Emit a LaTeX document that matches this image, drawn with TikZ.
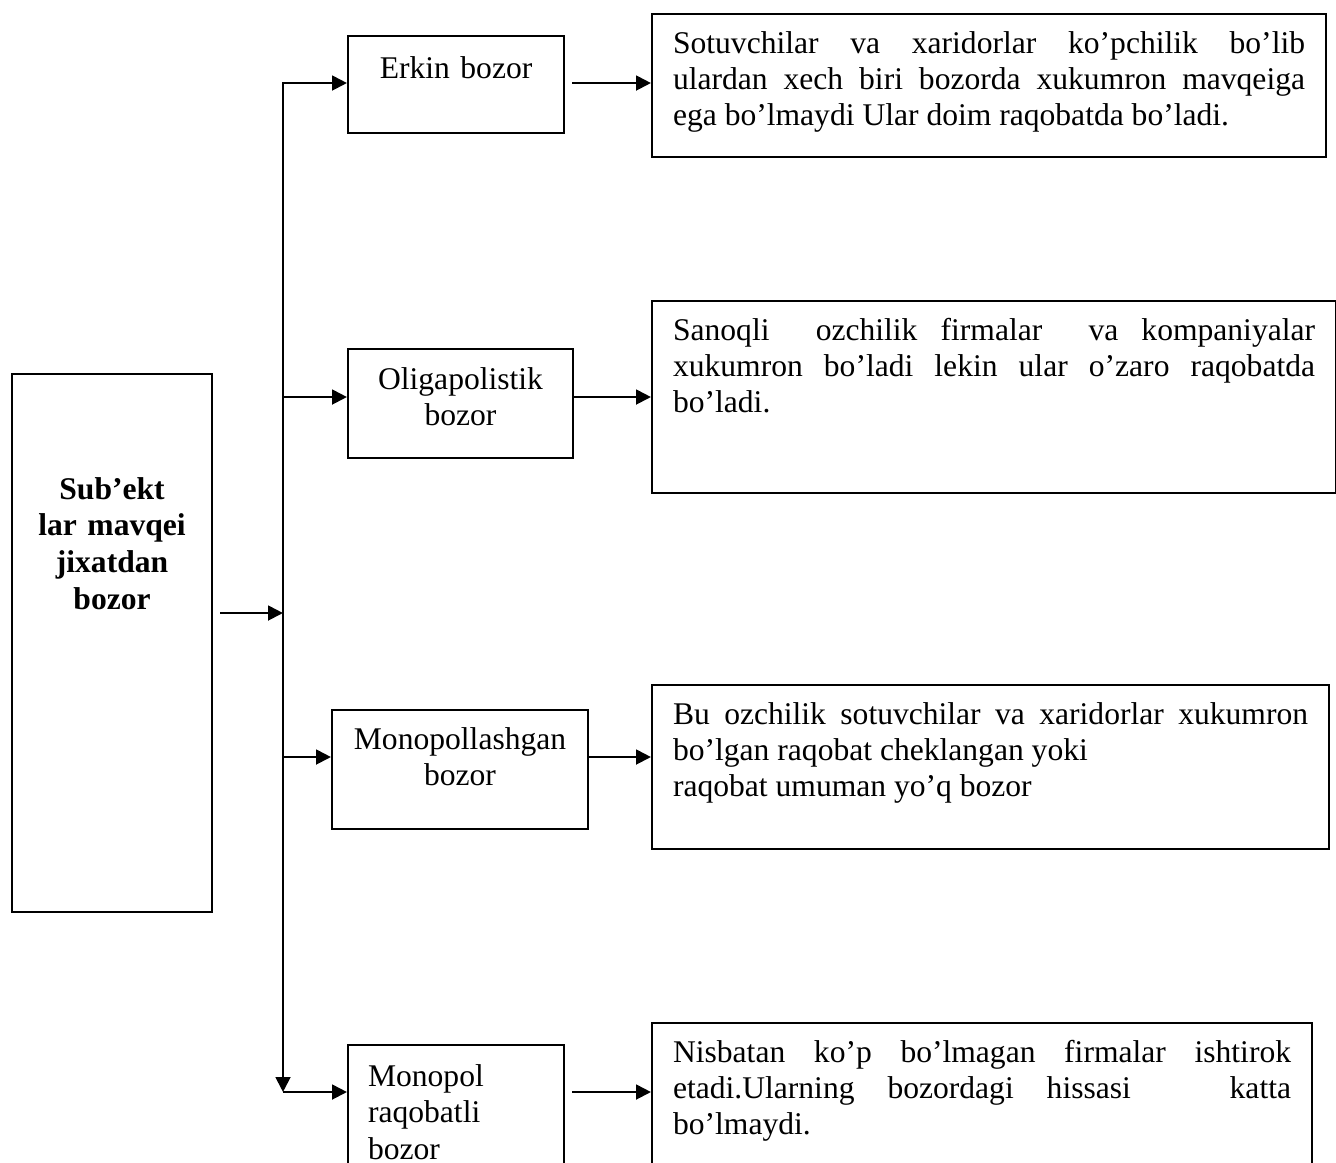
\documentclass[tikz,border=0pt]{standalone}
\usepackage{fontspec}
\setmainfont{Liberation Serif}
\usepackage{tikz}
\usetikzlibrary{arrows.meta}
\tolerance=10000
\hbadness=10000
\newdimen\unitpx
\unitpx=0.38pt
\tikzset{every node/.style={font=\fontsize{12}{13.8}\selectfont},
  box/.style={draw, line width=0.8pt, anchor=north west, inner ysep=0pt},
  kind/.style={box, inner xsep=0pt, align=center,
    font=\fontsize{12}{14}\selectfont},
  info/.style={box, inner xsep=21\unitpx, align=justify},
  link/.style={line width=1pt, -{Triangle[length=5.7pt,width=5.6pt]}},
  twoway/.style={line width=1pt,
    {Triangle[length=5.7pt,width=5.6pt]}-{Triangle[length=5.7pt,width=5.6pt]}}}

\begin{document}
\begin{tikzpicture}[x=0.38pt,y=-0.38pt]
\useasboundingbox (0,0) rectangle (1336,1162);
% left box
\node[kind, text width=200\unitpx, text height=125\unitpx, text depth=413\unitpx,
  font=\fontsize{12}{14}\selectfont\bfseries] (subj) at (11,373)
  {Sub’ekt\\lar mavqei\\jixatdan\\bozor};
% kinds of market
\node[kind, text width=216\unitpx, text height=42\unitpx, text depth=55\unitpx]
  (erkin) at (347,35) {Erkin bozor};
\node[kind, text width=225\unitpx, text height=40\unitpx, text depth=69\unitpx]
  (olig) at (347,348) {Oligapolistik\\bozor};
\node[kind, text width=256\unitpx, text height=39\unitpx, text depth=80\unitpx]
  (mono) at (331,709) {Monopollashgan\\bozor};
\node[kind, align=left, inner xsep=20\unitpx, text width=176\unitpx,
  text height=41\unitpx, text depth=115\unitpx]
  (mpr) at (347,1044) {Monopol\\raqobatli\\bozor};
% descriptions
\node[info, text width=632\unitpx, text height=39\unitpx, text depth=104\unitpx]
  (erkintxt) at (651,13)
  {Sotuvchilar va xaridorlar ko’pchilik bo’lib\linebreak
   ulardan xech biri bozorda xukumron mavqeiga\linebreak
   ega bo’lmaydi Ular doim raqobatda bo’ladi.};
\node[info, text width=642\unitpx, text height=39\unitpx, text depth=153\unitpx]
  (oligtxt) at (651,300)
  {Sanoqli\ \ ozchilik firmalar\ \ va kompaniyalar\linebreak
   xukumron bo’ladi lekin ular o’zaro raqobatda\linebreak
   bo’ladi.};
\node[info, text width=635\unitpx, text height=39\unitpx, text depth=125\unitpx]
  (monotxt) at (651,684)
  {Bu ozchilik sotuvchilar va xaridorlar xukumron\linebreak
   bo’lgan raqobat cheklangan yoki\newline
   raqobat umuman yo’q bozor};
\node[info, text width=618\unitpx, text height=39\unitpx, text depth=139\unitpx]
  (mprtxt) at (651,1022)
  {Nisbatan ko’p bo’lmagan firmalar ishtirok\linebreak
   etadi.Ularning bozordagi hissasi\ \ \ katta\linebreak
   bo’lmaydi.};
% trunk and branches
\coordinate (b1) at (283,83);
\coordinate (b2) at (283,397);
\coordinate (b0) at (283,613);
\coordinate (b3) at (283,757);
\coordinate (b4) at (283,1092);
\draw[link, shorten <=2.7pt] (b0 -| subj.east) -- (b0);
\draw[twoway] (b1 -| erkin.west) -- (b1) -- (b4);
\draw[link] (b2) -- (b2 -| olig.west);
\draw[link] (b3) -- (b3 -| mono.west);
\draw[link] (b4) -- (b4 -| mpr.west);
\draw[link, shorten <=2.7pt] (b1 -| erkin.east) -- (b1 -| erkintxt.west);
\draw[link] (b2 -| olig.east) -- (b2 -| oligtxt.west);
\draw[link] (b3 -| mono.east) -- (b3 -| monotxt.west);
\draw[link, shorten <=2.7pt] (b4 -| mpr.east) -- (b4 -| mprtxt.west);
\end{tikzpicture}
\end{document}
